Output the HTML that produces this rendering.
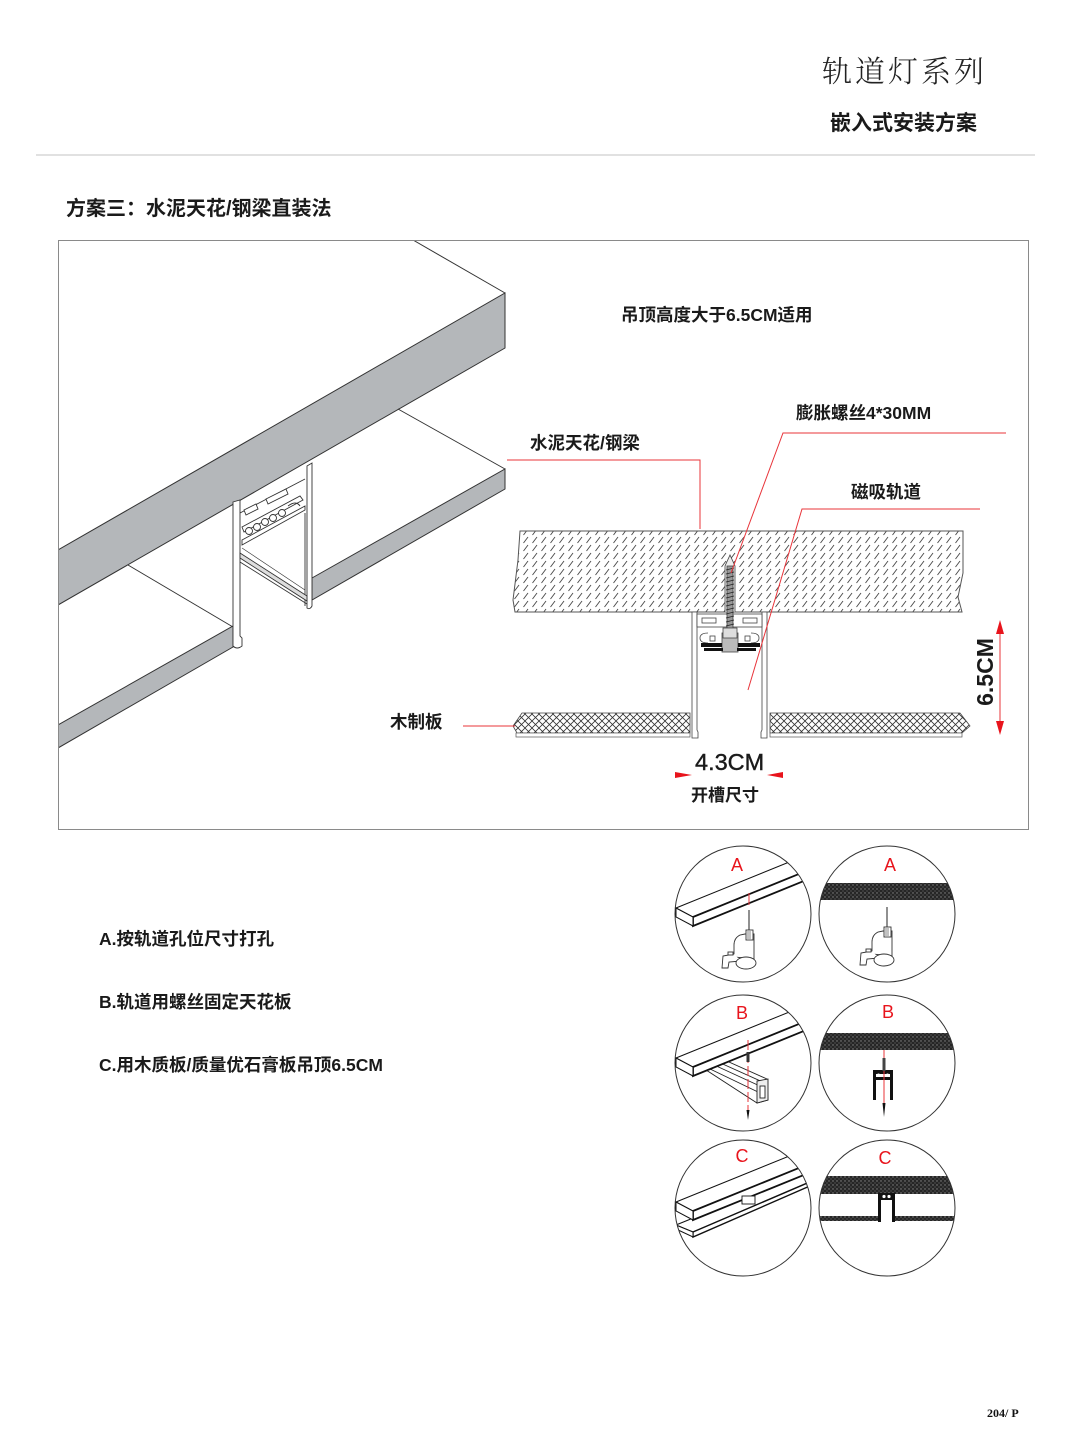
<!DOCTYPE html>
<html><head><meta charset="utf-8"><style>
html,body{margin:0;padding:0;background:#fff;}
svg{display:block;}
.cn{font-family:"Liberation Sans","Noto Sans CJK SC",sans-serif;font-weight:700;fill:#1a1a1a;}
.red{font-family:"Liberation Sans",sans-serif;fill:#e8141c;font-size:18px;}
</style></head><body>
<svg width="1080" height="1455" viewBox="0 0 1080 1455" xmlns="http://www.w3.org/2000/svg">
<defs>
  <pattern id="hatch" width="9" height="8" patternUnits="userSpaceOnUse">
    <path d="M1.5,7 L6,1" stroke="#4a4a4a" stroke-width="0.95"/>
  </pattern>
  <pattern id="xh" width="7" height="7" patternUnits="userSpaceOnUse">
    <path d="M0,0 L7,7 M7,0 L0,7" stroke="#333" stroke-width="0.8"/>
  </pattern>
  <pattern id="speck" width="4" height="4" patternUnits="userSpaceOnUse">
    <rect width="4" height="4" fill="#262626"/>
    <circle cx="1" cy="1" r="0.7" fill="#8a8a8a"/>
    <circle cx="3" cy="3" r="0.6" fill="#6a6a6a"/>
  </pattern>
  <clipPath id="frameClip"><rect x="58" y="240" width="970" height="589"/></clipPath>
  <clipPath id="c1"><circle cx="743" cy="914" r="68"/></clipPath>
  <clipPath id="c2"><circle cx="887" cy="914" r="68"/></clipPath>
  <clipPath id="c3"><circle cx="743" cy="1063" r="68"/></clipPath>
  <clipPath id="c4"><circle cx="887" cy="1063" r="68"/></clipPath>
  <clipPath id="c5"><circle cx="743" cy="1208" r="68"/></clipPath>
  <clipPath id="c6"><circle cx="887" cy="1208" r="68"/></clipPath>
  <g id="slab">
    <polygon points="676,908 809,854 826,863 693,917" fill="#fff" stroke="#111" stroke-width="1"/>
    <polygon points="693,917 826,863 826,872 693,926" fill="#fff" stroke="#111" stroke-width="1.8"/>
    <polygon points="676,908 693,917 693,926 676,917" fill="#fff" stroke="#111" stroke-width="1"/>
  </g>
  <g id="drill" fill="#fff" stroke="#333" stroke-width="0.9">
    <path d="M-4,4 L-9,5 Q-15,8 -15,15 L-15,27 L5,29 L5,4 Z"/>
    <rect x="-3" y="0" width="7" height="10"/>
    <path d="M-1,1 L-1,9 M1,1 L1,9" stroke-width="0.6"/>
    <path d="M-15,24 L-26,26 L-27,38 L-21,38 L-20,32 L-8,31"/>
    <rect x="-21" y="22" width="5" height="3"/>
    <ellipse cx="-3" cy="33" rx="10" ry="6"/>
  </g>
</defs>

<!-- header -->
<text x="822" y="82" style="font-family:'Noto Serif CJK SC','Noto Sans CJK SC',serif;font-weight:300;font-size:30px;letter-spacing:3px;fill:#222;">轨道灯系列</text>
<text x="830" y="130" class="cn" style="font-size:21px;">嵌入式安装方案</text>
<line x1="36" y1="155" x2="1035" y2="155" stroke="#cfcfcf" stroke-width="1.2"/>

<text x="66" y="215" class="cn" style="font-size:20px;">方案三：水泥天花/钢梁直装法</text>

<!-- isometric drawing -->
<g clip-path="url(#frameClip)">
  <g stroke="#333" stroke-width="1">
    <line x1="413" y1="240" x2="505" y2="293"/>
    <polygon points="505,293 505,348 58,605 58,550" fill="#b4b7ba"/>
    <line x1="398" y1="409" x2="505" y2="469"/>
    <polygon points="505,469 505,489 312,600 312,578" fill="#b4b7ba"/>
    <line x1="128" y1="565" x2="233" y2="627"/>
    <polygon points="233,626 233,647 58,748 58,725" fill="#b4b7ba"/>
  </g>
  <!-- track -->
  <g stroke="#333" stroke-width="0.9" fill="#fff">
    <path d="M307,466 L312,463 L312,606 Q310,610 307,608 Z"/>
    <path d="M233,502 L240,500 L240,636 L242,638 L242,646 Q237,650 233,646 Z"/>
    <path d="M240,513 L305,479" fill="none"/>
    <path d="M244,510 L256,504 L258,509 L246,515 Z"/>
    <path d="M266,499 L286,489 L288,494 L268,504 Z"/>
    <path d="M242,527 L300,496 L303,500 L244,532 Z"/>
    <path d="M242,540 L305,506 L305,510 L242,545 Z"/>
    <circle cx="249" cy="531" r="3.5"/>
    <circle cx="257" cy="527" r="3.5"/>
    <circle cx="265" cy="522" r="3.5"/>
    <circle cx="273" cy="518" r="3.5"/>
    <circle cx="282" cy="513" r="3.5"/>
    <path d="M288,506 Q296,500 300,506" fill="none"/>
    <path d="M305,513 L305,606" fill="none"/>
    <path d="M240,553 L307,596 L307,601 L240,558 Z" fill="#ddd"/>
    <path d="M240,562 L307,604" fill="none"/>
    <path d="M242,548 L305,590" fill="none" stroke-width="0.6"/>
  </g>
</g>

<!-- cross-section: concrete slab -->
<polygon points="520,531 963,531 963,573 958,597 962,612 515,612 513,600 518,560" fill="url(#hatch)" stroke="#555" stroke-width="1"/>

<!-- wood boards -->
<polygon points="522,713 690,713 690,733 517,733 513,726" fill="url(#xh)" stroke="#444" stroke-width="0.8"/>
<rect x="516" y="733" width="174" height="4" fill="#fff" stroke="#555" stroke-width="0.7"/>
<polygon points="770,713 960,713 970,726 962,733 770,733" fill="url(#xh)" stroke="#444" stroke-width="0.8"/>
<rect x="770" y="733" width="192" height="4" fill="#fff" stroke="#555" stroke-width="0.7"/>

<!-- track cross-section -->
<g stroke="#444" stroke-width="0.8" fill="#fff">
  <path d="M692,612 L692,738 L698,738 L698,732 L697,730 L697,612 Z"/>
  <path d="M767,612 L767,738 L761,738 L761,732 L762,730 L762,612 Z"/>
  <rect x="697" y="614" width="65" height="13"/>
  <rect x="702" y="618" width="14" height="5"/>
  <rect x="743" y="618" width="14" height="5"/>
  <path d="M708,633 Q700,633 700,638 Q700,643 708,643" fill="none"/>
  <path d="M751,633 Q759,633 759,638 Q759,643 751,643" fill="none"/>
  <rect x="710" y="636" width="5" height="5"/>
  <rect x="745" y="636" width="5" height="5"/>
  <rect x="722" y="633" width="16" height="19" fill="#bbb"/>
  <rect x="701" y="643" width="21" height="4" fill="#111" stroke="none"/>
  <rect x="738" y="643" width="22" height="4" fill="#111" stroke="none"/>
  <rect x="704" y="648" width="19" height="3" fill="#111" stroke="none"/>
  <rect x="737" y="648" width="19" height="3" fill="#111" stroke="none"/>
  <path d="M725,612 L725,566 L730,555 L735,566 L735,612" fill="#eee"/>
  <rect x="727" y="566" width="6" height="64" fill="#999"/>
  <rect x="723" y="628" width="14" height="10" fill="#ddd"/>
</g>
<g stroke="#222" stroke-width="0.7">
  <path d="M726,570 L734,568 M726,574 L734,572 M726,578 L734,576 M726,582 L734,580 M726,586 L734,584 M726,590 L734,588 M726,594 L734,592 M726,598 L734,596 M726,602 L734,600 M726,606 L734,604 M726,610 L734,608 M726,614 L734,612 M726,618 L734,616 M726,622 L734,620 M726,626 L734,624"/>
</g>

<!-- red leaders -->
<g stroke="#e8343a" stroke-width="1" fill="none">
  <polyline points="507,460 700,460 700,529"/>
  <polyline points="1006,433 783,433 731,573"/>
  <polyline points="980,509 802,509 748,690"/>
  <line x1="463" y1="726" x2="515" y2="726"/>
  <line x1="1000" y1="630" x2="1000" y2="726"/>
</g>
<g fill="#e8141c">
  <polygon points="1000,620 996,634 1004,634"/>
  <polygon points="1000,735 996,721 1004,721"/>
  <polygon points="675,772 692,775 675,778"/>
  <polygon points="783,772 767,775 783,778"/>
</g>

<!-- labels -->
<text x="621" y="321" class="cn" style="font-size:17.5px;">吊顶高度大于6.5CM适用</text>
<text x="796" y="419" class="cn" style="font-size:17.5px;">膨胀螺丝4*30MM</text>
<text x="530" y="449" class="cn" style="font-size:17.5px;">水泥天花/钢梁</text>
<text x="851" y="498" class="cn" style="font-size:17.5px;">磁吸轨道</text>
<text x="390" y="728" class="cn" style="font-size:17.5px;">木制板</text>
<text x="695" y="770" style="font-family:'Liberation Sans',sans-serif;font-size:23.5px;fill:#1a1a1a;stroke:#1a1a1a;stroke-width:0.4;">4.3CM</text>
<text x="691" y="801" class="cn" style="font-size:17px;">开槽尺寸</text>
<text x="993" y="672" text-anchor="middle" transform="rotate(-90 993 672)" style="font-family:'Liberation Sans',sans-serif;font-weight:700;font-size:23px;fill:#1a1a1a;">6.5CM</text>

<!-- frame -->
<rect x="58.5" y="240.5" width="970" height="589" fill="none" stroke="#8a8a8a" stroke-width="1"/>

<!-- step list -->
<text x="99" y="945" class="cn" style="font-size:17.5px;">A.按轨道孔位尺寸打孔</text>
<text x="99" y="1008" class="cn" style="font-size:17.5px;">B.轨道用螺丝固定天花板</text>
<text x="99" y="1071" class="cn" style="font-size:17.5px;">C.用木质板/质量优石膏板吊顶6.5CM</text>

<!-- circle 1: A left -->
<g clip-path="url(#c1)">
  <use href="#slab"/>
  <line x1="749" y1="893" x2="749" y2="905" stroke="#e8343a" stroke-width="1"/>
  <line x1="749" y1="910" x2="749" y2="930" stroke="#222" stroke-width="1"/>
  <use href="#drill" transform="translate(749,930)"/>
</g>
<circle cx="743" cy="914" r="68" fill="none" stroke="#333" stroke-width="1"/>
<text x="737" y="871" text-anchor="middle" class="red">A</text>

<!-- circle 2: A right -->
<g clip-path="url(#c2)">
  <rect x="815" y="883" width="145" height="17" fill="url(#speck)"/>
  <line x1="887" y1="907" x2="887" y2="927" stroke="#222" stroke-width="1"/>
  <use href="#drill" transform="translate(887,927)"/>
</g>
<circle cx="887" cy="914" r="68" fill="none" stroke="#333" stroke-width="1"/>
<text x="890" y="871" text-anchor="middle" class="red">A</text>

<!-- circle 3: B left -->
<g clip-path="url(#c3)">
  <g stroke="#222" stroke-width="0.9" fill="#fff">
    <polygon points="703,1068 720,1058 767,1079 768,1100 757,1103"/>
    <line x1="708" y1="1068" x2="758" y2="1092"/>
    <line x1="712" y1="1064" x2="762" y2="1087"/>
    <line x1="716" y1="1061" x2="765" y2="1083"/>
    <polygon points="757,1081 768,1079 768,1100 757,1103" fill="#eee"/>
    <rect x="760" y="1086" width="5" height="12"/>
  </g>
  <use href="#slab" transform="translate(0,150)"/>
  <line x1="748" y1="1040" x2="748" y2="1117" stroke="#e8343a" stroke-width="1" stroke-dasharray="10,3"/>
  <rect x="746.5" y="1052" width="3" height="10" fill="#333"/>
  <path d="M746.5,1110 L749.5,1110 L748,1120 Z" fill="#111"/>
</g>
<circle cx="743" cy="1063" r="68" fill="none" stroke="#333" stroke-width="1"/>
<text x="742" y="1019" text-anchor="middle" class="red">B</text>

<!-- circle 4: B right -->
<g clip-path="url(#c4)">
  <rect x="815" y="1033" width="145" height="17" fill="url(#speck)"/>
  <g fill="#111">
    <rect x="873" y="1070" width="20" height="4"/>
    <rect x="873" y="1070" width="3" height="30"/>
    <rect x="890" y="1070" width="3" height="30"/>
    <rect x="876" y="1077" width="14" height="3"/>
  </g>
  <circle cx="878.5" cy="1075" r="1.5" fill="#fff"/>
  <circle cx="887.5" cy="1075" r="1.5" fill="#fff"/>
  <line x1="884" y1="1050" x2="884" y2="1113" stroke="#e8343a" stroke-width="1"/>
  <rect x="882.5" y="1058" width="3" height="13" fill="#444"/>
  <path d="M882.5,1103 L885.5,1103 L884,1117 Z" fill="#111"/>
</g>
<circle cx="887" cy="1063" r="68" fill="none" stroke="#333" stroke-width="1"/>
<text x="888" y="1018" text-anchor="middle" class="red">B</text>

<!-- circle 5: C left -->
<g clip-path="url(#c5)">
  <g stroke="#111" stroke-width="1" fill="#fff">
    <polygon points="676,1225 809,1171 826,1175 693,1232"/>
    <polygon points="693,1232 826,1175 826,1179 693,1237" stroke-width="1.4"/>
    <polygon points="676,1225 693,1232 693,1237 676,1229"/>
  </g>
  <g stroke="#111" stroke-width="0.9" fill="#fff">
    <rect x="743" y="1184" width="11" height="19"/>
    <rect x="745" y="1186" width="7" height="5" fill="#333"/>
  </g>
  <use href="#slab" transform="translate(0,294)"/>
  <rect x="742" y="1196" width="13" height="8" fill="#fff" stroke="#111" stroke-width="0.9"/>
</g>
<circle cx="743" cy="1208" r="68" fill="none" stroke="#333" stroke-width="1"/>
<text x="742" y="1162" text-anchor="middle" class="red">C</text>

<!-- circle 6: C right -->
<g clip-path="url(#c6)">
  <rect x="815" y="1176" width="145" height="18" fill="url(#speck)"/>
  <rect x="815" y="1216" width="63" height="5" fill="url(#speck)"/>
  <rect x="895" y="1216" width="65" height="5" fill="url(#speck)"/>
  <g fill="#111">
    <rect x="878" y="1193" width="3" height="29"/>
    <rect x="892" y="1193" width="3" height="29"/>
    <rect x="881" y="1193" width="11" height="7"/>
  </g>
  <circle cx="884" cy="1196.5" r="1.6" fill="#fff"/>
  <circle cx="889" cy="1196.5" r="1.6" fill="#fff"/>
</g>
<circle cx="887" cy="1208" r="68" fill="none" stroke="#333" stroke-width="1"/>
<text x="885" y="1164" text-anchor="middle" class="red">C</text>

<!-- page number -->
<text x="987" y="1417" style="font-family:'Liberation Serif',serif;font-weight:700;font-size:12px;fill:#111;">204/ P</text>
</svg>
</body></html>
